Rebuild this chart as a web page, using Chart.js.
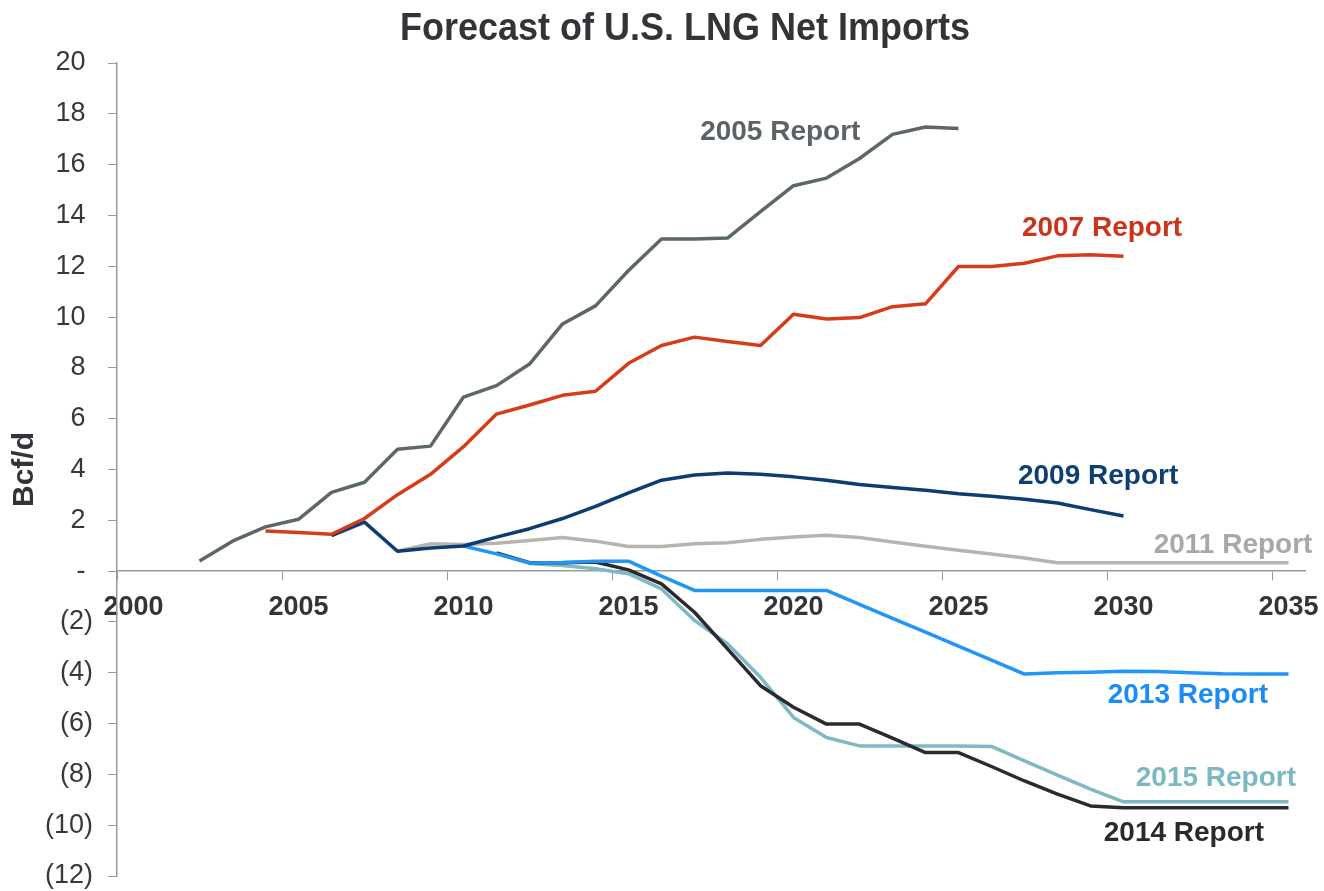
<!DOCTYPE html>
<html>
<head>
<meta charset="utf-8">
<title>Forecast of U.S. LNG Net Imports</title>
<script src="https://cdn.jsdelivr.net/npm/chart.js@4/dist/chart.umd.min.js"></script>
<style>
    html, body { margin: 0; padding: 0; background: #fff; }
    #chart { display: block; }
</style>
</head>
<body>
<canvas id="chart" width="1324" height="891"></canvas>
<script>
// Categories: one per year, 2000-2035
const years = [];
for (let y = 2000; y <= 2035; y++) years.push(String(y));

// Series values (Bcf/d), null where a report has no forecast
const report2005 = [null, null, 0.40, 1.18, 1.74, 2.04, 3.10, 3.50, 4.80, 4.92,
    6.85, 7.30, 8.15, 9.73, 10.44, 11.83, 13.07, 13.07, 13.11, 14.15,
    15.17, 15.47, 16.24, 17.19, 17.48, 17.42, null, null, null, null,
    null, null, null, null, null, null];
const report2007 = [null, null, null, null, 1.58, 1.52, 1.45, 2.07, 3.01, 3.81,
    4.90, 6.18, 6.54, 6.92, 7.08, 8.18, 8.88, 9.21, 9.04, 8.88,
    10.11, 9.92, 9.98, 10.41, 10.52, 11.99, 11.99, 12.12, 12.41, 12.45,
    12.39, null, null, null, null, null];
const report2009 = [null, null, null, null, null, null, 1.40, 1.93, 0.78, 0.91,
    0.99, 1.34, 1.67, 2.07, 2.55, 3.08, 3.58, 3.78, 3.86, 3.81,
    3.71, 3.58, 3.41, 3.29, 3.18, 3.05, 2.95, 2.83, 2.68, 2.42,
    2.17, null, null, null, null, null];
const report2011 = [null, null, null, null, null, null, null, null, 0.78, 1.08,
    1.05, 1.10, 1.21, 1.32, 1.18, 0.97, 0.97, 1.08, 1.12, 1.25,
    1.34, 1.41, 1.32, 1.15, 0.98, 0.82, 0.67, 0.52, 0.33, 0.33,
    0.33, 0.33, 0.33, 0.33, 0.33, 0.33];
const report2013 = [null, null, null, null, null, null, null, null, null, null,
    0.99, 0.68, 0.32, 0.34, 0.39, 0.39, -0.20, -0.76, -0.76, -0.76,
    -0.76, -0.76, -1.31, -1.86, -2.40, -2.95, -3.50, -4.05, -4.00, -3.98,
    -3.94, -3.95, -4.00, -4.04, -4.05, -4.05];
const report2014 = [null, null, null, null, null, null, null, null, null, null,
    null, 0.72, 0.33, 0.33, 0.36, 0.05, -0.50, -1.62, -3.06, -4.51,
    -5.36, -6.02, -6.02, -6.57, -7.14, -7.14, -7.69, -8.26, -8.78, -9.24,
    -9.31, -9.31, -9.31, -9.31, -9.31, -9.31];
const report2015 = [null, null, null, null, null, null, null, null, null, null,
    null, null, 0.30, 0.22, 0.09, -0.10, -0.70, -1.94, -2.86, -4.18,
    -5.76, -6.55, -6.88, -6.88, -6.88, -6.88, -6.90, -7.47, -8.03, -8.58,
    -9.08, -9.08, -9.08, -9.08, -9.08, -9.08];

// Y tick range
const yMin = -12;
const yMax = 20;
const yStep = 2;

// Series names, colours, and where their text labels sit (year, value)
const seriesNames = ['2005 Report', '2007 Report', '2009 Report', '2011 Report',
    '2013 Report', '2014 Report', '2015 Report'];
const seriesData = [report2005, report2007, report2009, report2011,
    report2013, report2014, report2015];
const lineColors = ['#5d676a', '#d63c1a', '#0b3d72', '#b5b5ad',
    '#2196f7', '#2a2a2f', '#7fb9c1'];
const textColors = ['#5b6366', '#c9351b', '#0d3f73', '#a8a8a8',
    '#1b8cf5', '#2a2a2e', '#7ab9c2'];
const labelYears = [2019.6, 2029.35, 2029.23, 2033.32, 2031.95, 2031.83, 2032.8];
const labelValues = [17.27, 13.48, 3.74, 1.01, -4.9, -10.3, -8.14];

const chartTitle = 'Forecast of U.S. LNG Net Imports';
const FONT = "'Liberation Sans', Arial, Helvetica, sans-serif";
const AXIS_LEFT = 117;

// Title (drawn by hand so it can sit where the original does)
const titleDraw = {
    id: 'titleDraw',
    afterDraw(chart) {
        const ctx = chart.ctx;
        ctx.save();
        ctx.font = 'bold 36px ' + FONT;
        ctx.fillStyle = '#333338';
        ctx.textAlign = 'center';
        ctx.textBaseline = 'alphabetic';
        ctx.translate(685, 40);
        ctx.scale(1, 1.1);
        ctx.fillText(chartTitle, 0, 0);
        ctx.restore();
    }
};

// Draw the "20xx Report" labels next to each line
const seriesLabels = {
    id: 'seriesLabels',
    afterDatasetsDraw(chart) {
        const ctx = chart.ctx;
        const xs = chart.scales.x;
        const ys = chart.scales.y;
        ctx.save();
        ctx.font = 'bold 28px ' + FONT;
        ctx.textAlign = 'center';
        ctx.textBaseline = 'middle';
        seriesNames.forEach((name, i) => {
            const px = xs.getPixelForValue(labelYears[i] - 2000);
            const py = ys.getPixelForValue(labelValues[i]);
            ctx.fillStyle = textColors[i];
            ctx.fillText(name, px, py);
        });
        ctx.restore();
    }
};

const ctx = document.getElementById('chart').getContext('2d');

const chart = new Chart(ctx, {
    type: 'line',
    data: {
        labels: years,
        datasets: seriesNames.map((name, i) => ({
            label: name,
            data: seriesData[i],
            borderColor: lineColors[i],
            backgroundColor: lineColors[i],
            borderWidth: 3.5,
            tension: 0,
            pointRadius: 0,
            borderJoinStyle: 'round',
            fill: false
        }))
    },
    options: {
        responsive: false,
        animation: false,
        layout: {
            padding: { left: 0, right: 19, top: 63, bottom: 15 }
        },
        plugins: {
            legend: { display: false },
            tooltip: { enabled: false },
            title: { display: false }
        },
        scales: {
            x: {
                type: 'category',
                position: { y: 0 },
                offset: true,
                afterFit(scale) {
                    scale.height = 0;
                    scale.paddingLeft = 0;
                    scale.paddingRight = 0;
                },
                grid: {
                    offset: true,
                    drawOnChartArea: false,
                    drawTicks: true,
                    tickLength: 9,
                    color: (c) => (c.index % 5 === 0 ? '#9a9a9a' : 'rgba(0,0,0,0)')
                },
                border: { display: true, color: '#9a9a9a', width: 1.5 },
                ticks: {
                    autoSkip: false,
                    maxRotation: 0,
                    padding: 11,
                    color: '#333338',
                    font: { family: FONT, size: 27, weight: 'bold' },
                    callback(value, index) {
                        const yr = years[index];
                        return Number(yr) % 5 === 0 ? yr : '';
                    }
                }
            },
            y: {
                min: yMin,
                max: yMax,
                afterFit(scale) {
                    scale.width = AXIS_LEFT;
                    scale.paddingTop = 0;
                    scale.paddingBottom = 0;
                },
                grid: {
                    drawOnChartArea: false,
                    drawTicks: true,
                    tickLength: 9,
                    color: '#9a9a9a'
                },
                border: { display: true, color: '#9a9a9a', width: 1.5 },
                ticks: {
                    stepSize: yStep,
                    padding: 15,
                    color: '#38383c',
                    font: { family: FONT, size: 27, lineHeight: 1 },
                    callback(value) {
                        if (value === 0) return '- ';
                        if (value < 0) return '(' + (-value) + ')';
                        return value + ' ';
                    }
                },
                title: {
                    display: true,
                    text: 'Bcf/d',
                    color: '#333338',
                    font: { family: FONT, size: 30, weight: 'bold' },
                    padding: { top: 7, bottom: 0 }
                }
            }
        }
    },
    plugins: [seriesLabels, titleDraw]
});
</script>
</body>
</html>
